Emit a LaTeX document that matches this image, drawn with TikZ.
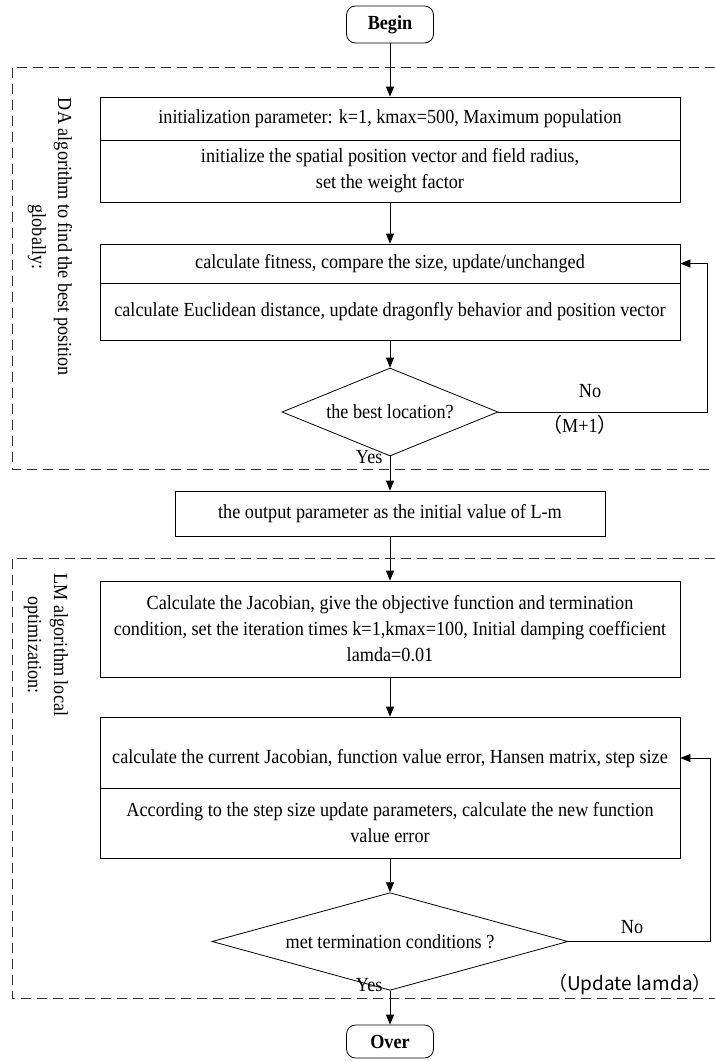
\documentclass[tikz,border=0pt]{standalone}
\usepackage{fontspec}
\setmainfont[FakeStretch=0.91]{Liberation Serif}
\newfontfamily\cjk{Noto Sans CJK SC}
\usepackage{tikz}
\usetikzlibrary{shapes.geometric, arrows.meta, positioning, calc}

\begin{document}
\begin{tikzpicture}[
    x=1pt, y=-1pt,
    every node/.style={font=\fontsize{20}{26}\selectfont},
    box/.style={rectangle, draw, thick, minimum width=580pt, inner sep=0pt, align=center},
    term/.style={rectangle, rounded corners=9pt, draw, thick, minimum width=87pt, font=\fontsize{20}{26}\selectfont\bfseries},
    cond/.style={diamond, draw, thick, aspect=2.5, inner sep=0pt},
    line/.style={thick, -{Triangle[length=10pt, width=8pt]}},
    region/.style={dash pattern=on 10pt off 6pt, thick, black!80}
]
\useasboundingbox (0,0) rectangle (715,1061);

% Dashed regions
\draw[region] (715,67) -- (12,67) -- (12,469) -- (715,469);
\draw[region] (715,558) -- (12,558) -- (12,998) -- (715,998);
\node[rotate=-90, align=center] (dalabel) at (50,237) {DA algorithm to find the best position\\globally:};
\node[rotate=-90, align=center] (lmlabel) at (46,645) {LM algorithm local\\optimization:};

% DA part
\node[term, minimum height=37pt] (begin) at (390,24.5) {Begin};
\node[box, minimum height=43pt] (dainit) at (390,118.5) {initialization parameter: k=1, kmax=500, Maximum population};
\node[box, minimum height=62pt] (daset) at (390,171) {initialize the spatial position vector and field radius,\\set the weight factor};
\node[box, minimum height=39pt] (dafit) at (390,263.5) {calculate fitness, compare the size, update/unchanged};
\node[box, minimum height=57pt] (dapos) at (390,311.5) {calculate Euclidean distance, update dragonfly behavior and position vector};
\node[cond, minimum width=216pt, minimum height=88pt] (best) at (390,412) {the best location?};

\node[box, minimum width=430pt, minimum height=45pt] (output) at (390,513.5) {the output parameter as the initial value of L-m};

% LM part
\node[box, minimum height=96pt] (lmset) at (390,629) {Calculate the Jacobian, give the objective function and termination\\condition, set the iteration times k=1,kmax=100, Initial damping coefficient\\lamda=0.01};
\node[box, minimum height=71pt] (lmcalc) at (390,752.5) {\raisebox{-11pt}[0pt][0pt]{calculate the current Jacobian, function value error, Hansen matrix, step size}};
\node[box, minimum height=70pt] (lmnew) at (390,823) {According to the step size update parameters, calculate the new function\\value error};
\node[cond, minimum width=356pt, minimum height=77pt] (met) at (390,941.5) {met termination conditions ?};
\node[term, minimum height=33pt] (over) at (390,1041.5) {Over};

% Connectors
\draw[line] (begin) -- (dainit);
\draw[line] (daset) -- (dafit);
\draw[line] (dapos) -- (best);
\draw[line] (best) -- (output);
\draw[line] (best.east) -- ++(209,0) |- (dafit.east);
\draw[line] (output) -- (lmset);
\draw[line] (lmset) -- (lmcalc);
\draw[line] (lmnew) -- (met);
\draw[line] (met) -- (over);
\draw[line] (met.east) -- ++(142,0) |- ($(lmcalc.east)+(0,5.5)$);

% Labels
\node (no1) at (590,391) {No};
\node (m1) at (580,425) {{\cjk （}M+1{\cjk ）}};
\node[anchor=east] (yes1) at (386,457) {Yes};
\node (no2) at (632,927) {No};
\node[font=\cjk\fontsize{19}{24}\selectfont] (upd) at (630,985) {（Update lamda）};
\node[anchor=east] (yes2) at (386,985) {Yes};
\end{tikzpicture}
\end{document}
